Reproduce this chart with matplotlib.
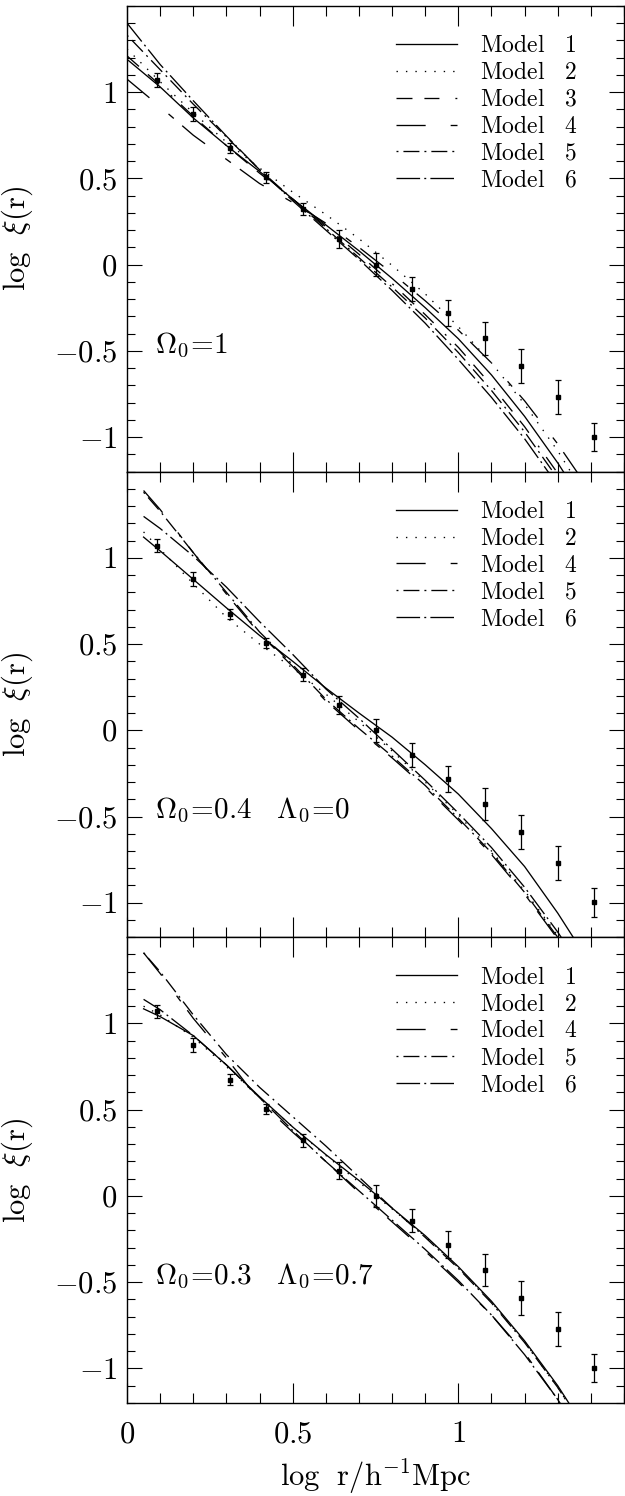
import matplotlib
matplotlib.use("Agg")
import matplotlib.pyplot as plt
from matplotlib.ticker import MultipleLocator, FixedLocator, FuncFormatter

plt.rcParams["mathtext.fontset"] = "cm"
plt.rcParams["font.family"] = "serif"
plt.rcParams["font.serif"] = ["cmr10", "DejaVu Serif"]
plt.rcParams["axes.unicode_minus"] = False
plt.rcParams["lines.scale_dashes"] = False

# observed correlation function (same in every panel)
r_obs = [0.09, 0.20, 0.31, 0.42, 0.53, 0.64, 0.75, 0.86, 0.97, 1.08, 1.19, 1.30, 1.41]
xi_obs = [1.07, 0.875, 0.675, 0.505, 0.322, 0.147, 0.0, -0.143, -0.282,
          -0.428, -0.59, -0.77, -0.998]
xi_err = [0.039, 0.04, 0.03, 0.03, 0.037, 0.051, 0.066, 0.068, 0.077,
          0.094, 0.099, 0.098, 0.082]

# model curves, Omega_0 = 1
x_top = [0.0, 0.1, 0.2, 0.3, 0.4, 0.5, 0.6, 0.7, 0.8, 0.9, 1.0, 1.1, 1.2, 1.3, 1.4]
top_m1 = [1.19, 1.03, 0.85, 0.69, 0.54, 0.38, 0.23, 0.08, -0.08, -0.25, -0.43, -0.64, -0.88, -1.15, -1.45]
top_m2 = [1.25, 1.06, 0.88, 0.71, 0.56, 0.42, 0.29, 0.15, -0.005, -0.17, -0.36, -0.57, -0.81, -1.08, -1.39]
top_m3 = [1.21, 1.04, 0.86, 0.69, 0.53, 0.38, 0.22, 0.06, -0.11, -0.29, -0.48, -0.70, -0.94, -1.21, -1.51]
top_m4 = [1.075, 0.915, 0.75, 0.61, 0.47, 0.36, 0.24, 0.10, -0.05, -0.21, -0.38, -0.57, -0.79, -1.04, -1.32]
top_m5 = [1.33, 1.13, 0.93, 0.74, 0.55, 0.38, 0.21, 0.04, -0.13, -0.31, -0.51, -0.73, -0.97, -1.24, -1.54]
top_m6 = [1.40, 1.16, 0.95, 0.745, 0.55, 0.37, 0.20, 0.03, -0.15, -0.34, -0.55, -0.77, -1.01, -1.28, -1.58]

# model curves, Omega_0 = 0.4, Lambda_0 = 0
x_mid = [0.05, 0.1, 0.2, 0.3, 0.4, 0.5, 0.6, 0.7, 0.8, 0.9, 1.0, 1.1, 1.2, 1.3, 1.4]
mid_m1 = [1.12, 1.04, 0.875, 0.71, 0.55, 0.40, 0.245, 0.10, -0.04, -0.20, -0.37, -0.57, -0.79, -1.06, -1.36]
mid_m2 = [1.15, 1.05, 0.85, 0.655, 0.50, 0.36, 0.21, 0.05, -0.12, -0.30, -0.49, -0.70, -0.93, -1.19, -1.48]
mid_m4 = [1.39, 1.28, 1.03, 0.79, 0.56, 0.37, 0.17, 0.0, -0.16, -0.33, -0.52, -0.72, -0.95, -1.21, -1.50]
mid_m5 = [1.38, 1.27, 1.03, 0.80, 0.57, 0.38, 0.18, 0.01, -0.15, -0.32, -0.51, -0.71, -0.94, -1.20, -1.49]
mid_m6 = [1.24, 1.17, 1.01, 0.83, 0.63, 0.44, 0.24, 0.07, -0.11, -0.29, -0.48, -0.68, -0.91, -1.17, -1.46]

# model curves, Omega_0 = 0.3, Lambda_0 = 0.7
x_bot = [0.05, 0.1, 0.2, 0.3, 0.4, 0.5, 0.6, 0.7, 0.8, 0.9, 1.0, 1.1, 1.2, 1.3, 1.4]
bot_m1 = [1.085, 1.04, 0.93, 0.76, 0.575, 0.40, 0.24, 0.09, -0.07, -0.23, -0.41, -0.61, -0.84, -1.10, -1.40]
bot_m2 = [1.10, 1.05, 0.92, 0.75, 0.57, 0.40, 0.235, 0.08, -0.075, -0.235, -0.415, -0.615, -0.845, -1.11, -1.41]
bot_m4 = [1.41, 1.29, 1.03, 0.80, 0.55, 0.37, 0.20, 0.02, -0.15, -0.32, -0.50, -0.69, -0.91, -1.18, -1.48]
bot_m5 = [1.41, 1.30, 1.05, 0.82, 0.63, 0.46, 0.29, 0.11, -0.07, -0.24, -0.42, -0.62, -0.85, -1.11, -1.41]
bot_m6 = [1.14, 1.08, 0.93, 0.76, 0.57, 0.38, 0.20, 0.03, -0.14, -0.31, -0.49, -0.69, -0.92, -1.18, -1.48]

y_ticks = [-1, -0.5, 0, 0.5, 1]
x_ticks = [0, 0.5, 1]

# line style for each model number (dash lengths in points)
model_styles = {
    1: "-",
    2: (0, (1.0, 5.8)),
    3: (0, (11.5, 8.6, 10.8, 11.5, 1.4, 8.6)),
    4: (0, (21, 18, 5, 8)),
    5: (0, (1.4, 3.6, 11.5, 3.6)),
    6: (0, (17, 3, 1.4, 3)),
}


def model_label(n):
    return r"$\mathrm{Model}\quad %d$" % n


def draw_panel(ax, x, curves, note, legend_top):
    for n, y in curves:
        ax.plot(x, y, color="k", lw=0.95, linestyle=model_styles[n],
                label=model_label(n), dash_capstyle="butt")
    ax.errorbar(r_obs, xi_obs, yerr=xi_err, fmt="s", ms=3, color="k",
                ecolor="k", elinewidth=0.9, capsize=2.2, capthick=0.9)

    ax.set_xlim(0, 1.5)
    ax.set_ylim(-1.2, 1.5)
    ax.xaxis.set_major_locator(FixedLocator(x_ticks))
    ax.xaxis.set_minor_locator(MultipleLocator(0.1))
    ax.yaxis.set_major_locator(FixedLocator(y_ticks))
    ax.yaxis.set_minor_locator(MultipleLocator(0.1))
    fmt = FuncFormatter(lambda v, pos: r"$%g$" % v)
    ax.xaxis.set_major_formatter(fmt)
    ax.yaxis.set_major_formatter(fmt)

    ax.tick_params(which="both", direction="in", top=True, right=True, width=0.8)
    ax.tick_params(axis="x", which="major", length=14.4, labelsize=22, pad=13)
    ax.tick_params(axis="x", which="minor", length=7.2)
    ax.tick_params(axis="y", which="major", length=10.8, labelsize=22, pad=7)
    ax.tick_params(axis="y", which="minor", length=5.8)
    for s in ax.spines.values():
        s.set_linewidth(1.0)

    ax.set_ylabel(r"$\mathrm{log}\ \ \xi(\mathrm{r})$", fontsize=22)
    ax.yaxis.set_label_coords(-0.185, 0.5)

    ax.text(0.056, 0.255, note, transform=ax.transAxes, fontsize=21,
            ha="left", va="baseline")

    ax.legend(loc="upper left", bbox_to_anchor=(0.541, legend_top),
              frameon=False, fontsize=17, handlelength=2.6,
              handletextpad=0.95, labelspacing=0.2, borderpad=0,
              borderaxespad=0)


fig = plt.figure(figsize=(6.25, 14.96), dpi=100)
left, width = 0.2032, 0.7952
height = 0.3113
bottom = 0.0622

ax_top = fig.add_axes([left, bottom + 2 * height, width, height])
ax_mid = fig.add_axes([left, bottom + height, width, height], sharex=ax_top)
ax_bot = fig.add_axes([left, bottom, width, height], sharex=ax_top)

draw_panel(ax_top, x_top,
           [(1, top_m1), (2, top_m2), (3, top_m3), (4, top_m4), (5, top_m5), (6, top_m6)],
           r"$\Omega_0\!=\!1$", 0.937)
draw_panel(ax_mid, x_mid,
           [(1, mid_m1), (2, mid_m2), (4, mid_m4), (5, mid_m5), (6, mid_m6)],
           r"$\Omega_0\!=\!0.4\ \ \ \Lambda_0\!=\!0$", 0.937)
draw_panel(ax_bot, x_bot,
           [(1, bot_m1), (2, bot_m2), (4, bot_m4), (5, bot_m5), (6, bot_m6)],
           r"$\Omega_0\!=\!0.3\ \ \ \Lambda_0\!=\!0.7$", 0.937)

for ax in (ax_top, ax_mid):
    ax.tick_params(axis="x", labelbottom=False)

ax_bot.set_xlabel(r"$\mathrm{log}\ \ \mathrm{r/h^{-1}Mpc}$", fontsize=22, labelpad=7)

fig.savefig("out.png", dpi=100)
